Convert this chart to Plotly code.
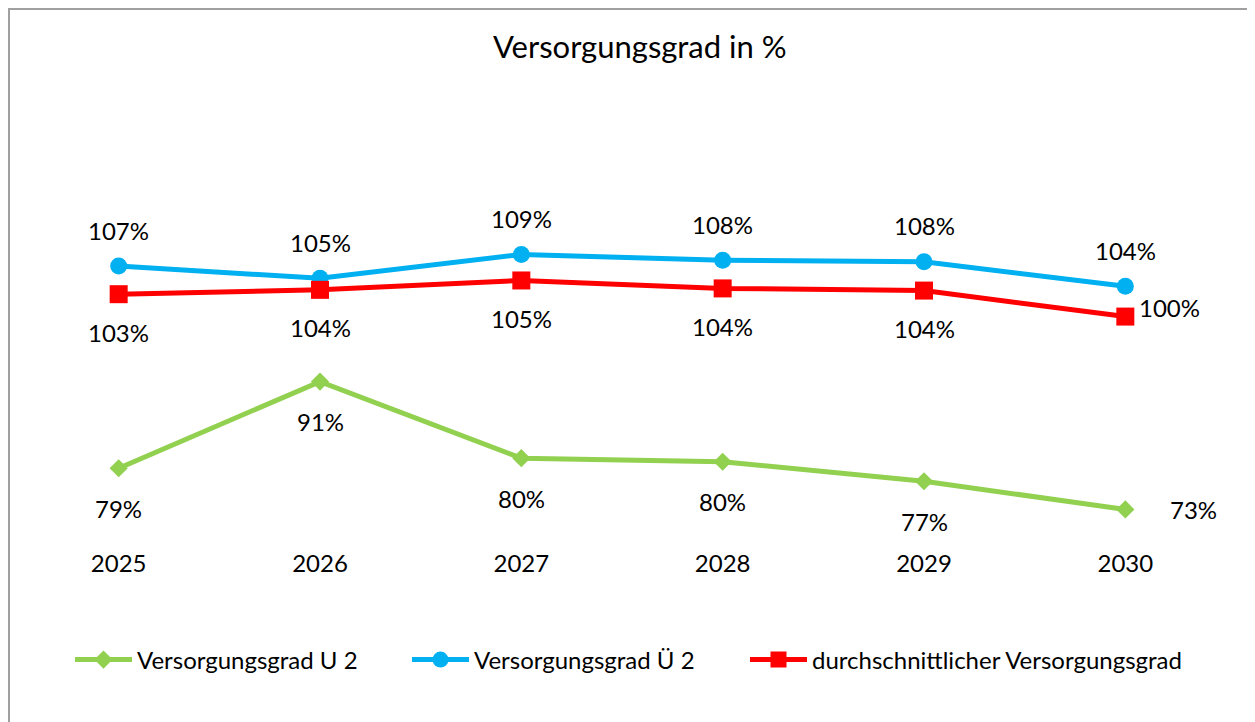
import plotly.graph_objects as go

years = ["2025", "2026", "2027", "2028", "2029", "2030"]
u2 = [79.0, 91.0, 80.4, 79.9, 77.2, 73.3]
ue2 = [107.0, 105.3, 108.6, 107.8, 107.6, 104.2]
avg = [103.1, 103.7, 105.0, 103.9, 103.6, 100.0]

names = ["Versorgungsgrad U 2", "Versorgungsgrad Ü 2", "durchschnittlicher Versorgungsgrad"]
colors = ["#92D050", "#00B0F0", "#FF0000"]
symbols = ["diamond", "circle", "square"]
msizes = [14, 17, 18]

FONT = "Lato"
# page body has an 8px margin, so the figure is drawn 8px smaller and offset
OFF = 8
W, H = 1255 - OFF, 722 - OFF
L, R, T, B = 10, 29, 128, 175

xpos = list(range(len(years)))
legend_ids = ["legend", "legend2", "legend3"]
legend_left = [70, 407, 745]  # screen px of each legend entry

fig = go.Figure()
for vals, name, col, sym, ms, lid in zip([u2, ue2, avg], names, colors, symbols, msizes, legend_ids):
    fig.add_trace(go.Scatter(
        x=xpos, y=vals, name=name, mode="lines+markers",
        line=dict(color=col, width=5),
        marker=dict(symbol=sym, size=ms, color=col),
        hoverinfo="skip", legend=lid,
    ))

annotations = []
def lab(x, v, xs=0, ys=0):
    annotations.append(dict(x=x, y=v, xref="x", yref="y", text=f"{v:.0f}%",
                            showarrow=False, xshift=xs, yshift=ys,
                            font=dict(family=FONT, size=24, color="#000000")))

n = len(years)
for i, v in enumerate(ue2):
    lab(xpos[i], v, 0, 36)
for i, v in enumerate(avg):
    if i == n - 1:
        lab(xpos[i], v, 44, 9)
    else:
        lab(xpos[i], v, 0, -38)
for i, v in enumerate(u2):
    if i == n - 1:
        lab(xpos[i], v, 68, 0)
    else:
        lab(xpos[i], v, 0, -40)

pw = W - L - R
ph = H - T - B
def px(p):  # screen pixel -> paper x
    return (p - OFF - L) / pw
def py(p):  # screen pixel -> paper y
    return (H - B - (p - OFF)) / ph

legends = {}
for lid, lx in zip(legend_ids, legend_left):
    legends[lid] = dict(orientation="h", x=px(lx), xanchor="left", y=py(660), yanchor="middle",
                        font=dict(family=FONT, size=24, color="#000000"),
                        itemwidth=57, bgcolor="rgba(0,0,0,0)")

fig.update_layout(
    width=W, height=H,
    margin=dict(l=L, r=R, t=T, b=B),
    paper_bgcolor="white", plot_bgcolor="white",
    title=dict(text="Versorgungsgrad in %", x=px(630), xanchor="center",
               y=1 - (47 - OFF) / H, yanchor="middle",
               font=dict(family=FONT, size=31, color="#000000")),
    font=dict(family=FONT, color="#000000"),
    xaxis=dict(range=[-0.5, n - 0.5], tickvals=xpos, ticktext=years,
               showgrid=False, showline=False, zeroline=False, ticks="",
               tickfont=dict(family=FONT, size=24, color="#000000")),
    yaxis=dict(range=[68.1, 125], visible=False, showgrid=False, zeroline=False),
    showlegend=True,
    annotations=annotations,
    shapes=[dict(type="rect", xref="paper", yref="paper",
                 x0=px(OFF + 1), x1=px(1253), y0=py(780), y1=py(OFF + 1),
                 line=dict(color="#A0A0A0", width=2), fillcolor="rgba(0,0,0,0)", layer="below")],
    **legends,
)

fig.write_html("out.html")
